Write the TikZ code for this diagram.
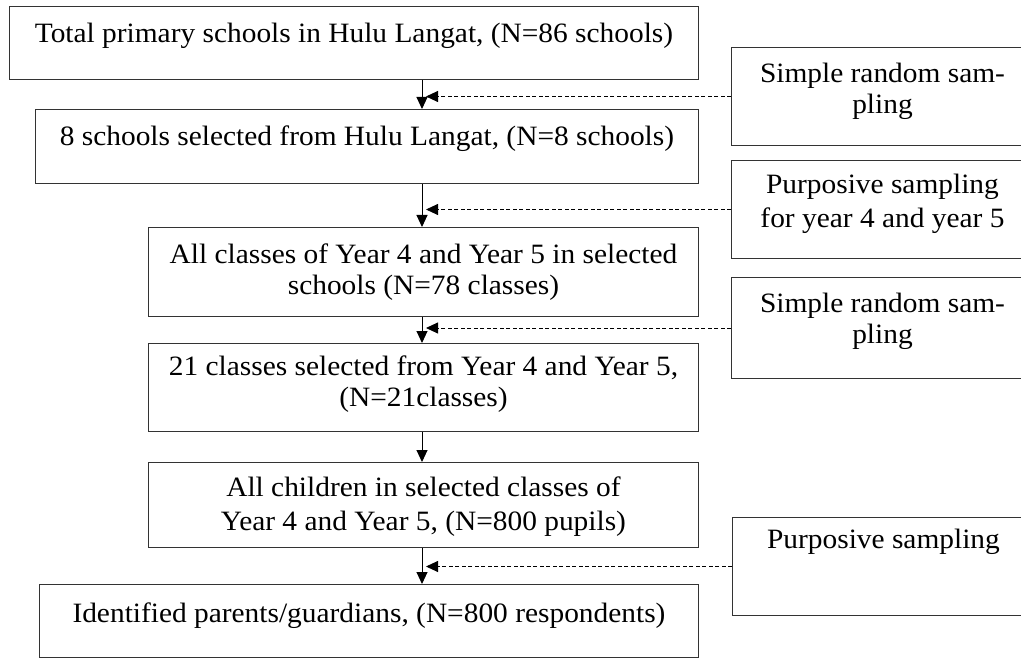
\documentclass[tikz,border=0pt]{standalone}
\usepackage{fontspec}
\setmainfont{Liberation Serif}[FakeStretch=1.05]
\usetikzlibrary{arrows.meta,calc}
\begin{document}
\begin{tikzpicture}[x=1pt,y=-1pt,
  box/.style={draw=black!80, line width=1pt, rectangle, inner sep=0pt, anchor=north west},
  txt/.style={anchor=north, inner sep=0pt, align=center, font=\fontsize{28}{31}\selectfont},
  txtw/.style={txt, font=\fontsize{28}{34}\selectfont},
  flow/.style={line width=1pt, draw=black, -{Triangle[length=12pt,width=11pt]}},
  samp/.style={line width=0.9pt, draw=black, dash pattern=on 4pt off 2.5pt, -{Triangle[length=12pt,width=11pt]}, shorten >=4pt}]
\useasboundingbox (0,0) rectangle (1021,658);
\clip (0,0) rectangle (1021,658);
\coordinate (axis) at (422,0);
% main column
\node[box, minimum width=689pt, minimum height=73pt] (b1) at (9,6) {};
\node[box, minimum width=663pt, minimum height=74pt] (b2) at (35,109) {};
\node[box, minimum width=550pt, minimum height=89pt] (b3) at (148,227) {};
\node[box, minimum width=550pt, minimum height=88pt] (b4) at (148,343) {};
\node[box, minimum width=550pt, minimum height=85pt] (b5) at (148,462) {};
\node[box, minimum width=659pt, minimum height=73pt] (b6) at (39,584) {};
\node[txt] (t1) at ($(b1.north)+(0,14.3)$) {\strut Total primary schools in Hulu Langat, (N=86 schools)};
\node[txt] (t2) at ($(b2.north)+(0,14.3)$) {\strut 8 schools selected from Hulu Langat, (N=8 schools)};
\node[txt] (t3) at ($(b3.north)+(0,14.3)$) {\strut All classes of Year 4 and Year 5 in selected\\\strut schools (N=78 classes)};
\node[txt] (t4) at ($(b4.north)+(0,10.3)$) {\strut 21 classes selected from Year 4 and Year 5,\\\strut (N=21classes)};
\node[txtw] (t5) at ($(b5.north)+(0,10.2)$) {\strut All children in selected classes of\\\strut Year 4 and Year 5, (N=800 pupils)};
\node[txt] (t6) at ($(b6.north)+(0,16.3)$) {\strut Identified parents/guardians, (N=800 respondents)};
% sampling boxes
\node[box, minimum width=302pt, minimum height=98pt] (r1) at (731,47) {};
\node[box, minimum width=302pt, minimum height=98pt] (r2) at (731,160) {};
\node[box, minimum width=302pt, minimum height=101pt] (r3) at (731,277) {};
\node[box, minimum width=302pt, minimum height=98pt] (r4) at (732,517) {};
\node[txt] (s1) at ($(r1.north)+(0,13.3)$) {\strut Simple random sam-\\\strut pling};
\node[txtw] (s2) at ($(r2.north)+(0,9.2)$) {\strut Purposive sampling\\\strut for year 4 and year 5};
\node[txt] (s3) at ($(r3.north)+(0,13.3)$) {\strut Simple random sam-\\\strut pling};
\node[txt] (s4) at ($(r4.north)+(0,9.3)$) {\strut Purposive sampling};
% flow arrows
\draw[flow] (b1.south -| axis) -- (b2.north -| axis);
\draw[flow] (b2.south -| axis) -- (b3.north -| axis);
\draw[flow] (b3.south -| axis) -- (b4.north -| axis);
\draw[flow] (b4.south -| axis) -- (b5.north -| axis);
\draw[flow] (b5.south -| axis) -- (b6.north -| axis);
% sampling arrows
\draw[samp] (r1.west) -- (r1.west -| axis);
\draw[samp] (r2.west) -- (r2.west -| axis);
\draw[samp] (r3.west) -- (r3.west -| axis);
\draw[samp] (r4.west) -- (r4.west -| axis);
\end{tikzpicture}
\end{document}
